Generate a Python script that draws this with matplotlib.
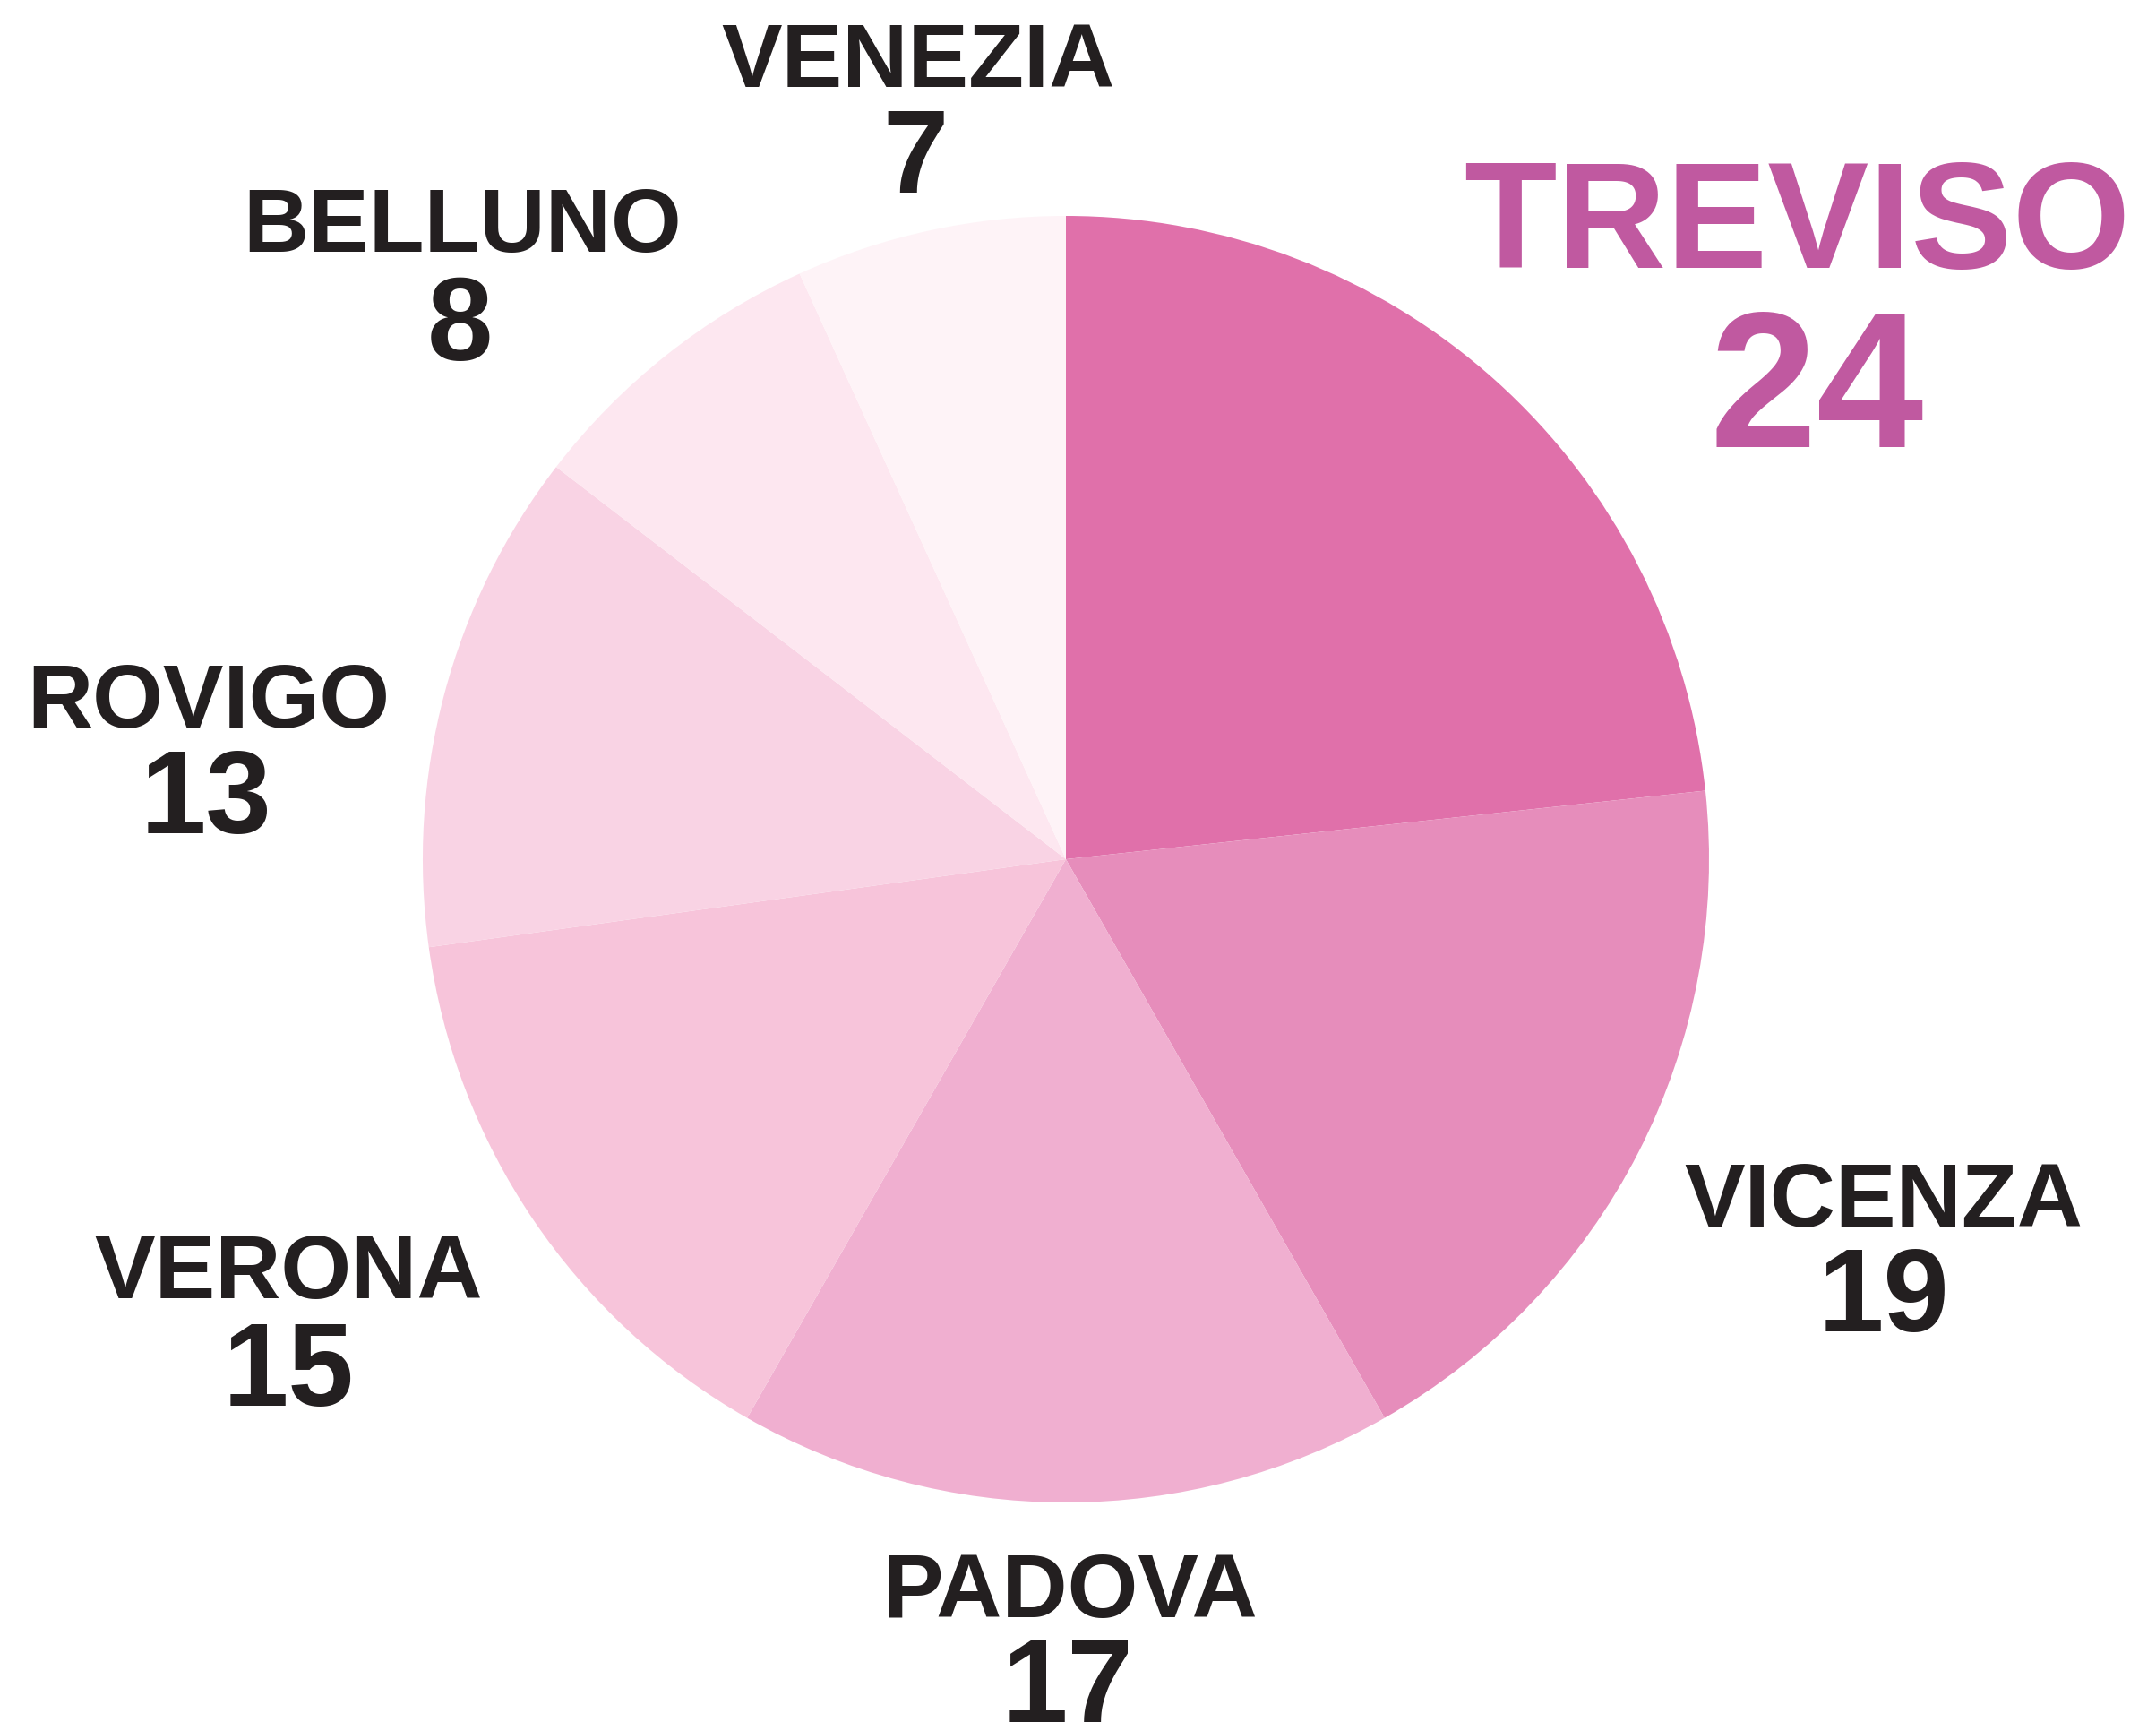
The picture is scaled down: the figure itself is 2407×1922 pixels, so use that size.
import matplotlib
matplotlib.use("Agg")
import matplotlib.pyplot as plt
from matplotlib import font_manager

# ---- data ----
provinces = ["TREVISO", "VICENZA", "PADOVA", "VERONA", "ROVIGO", "BELLUNO", "VENEZIA"]
values = [24, 19, 17, 15, 13, 8, 7]
colors = ["#e070aa", "#e68dbb", "#f0afd0", "#f7c4da", "#f9d3e4", "#fde7f0", "#fef3f7"]

W, H = 2407, 1922
fig = plt.figure(figsize=(W / 100, H / 100), dpi=100)
fig.patch.set_facecolor("white")

names = {f.name for f in font_manager.fontManager.ttflist}
base_font = "Liberation Sans" if "Liberation Sans" in names else "DejaVu Sans"

# pie centre (1190, 959) px, radius 718 px
cx, cy, r = 1190, 959, 718
ax = fig.add_axes([(cx - r) / W, (H - cy - r) / H, 2 * r / W, 2 * r / H])
ax.pie(values, colors=colors, startangle=90, counterclock=False, radius=1,
       wedgeprops=dict(linewidth=0))
ax.set_xlim(-1, 1)
ax.set_ylim(-1, 1)
ax.set_axis_off()

# label anchors (pixel coords: name x, name baseline, number x, number baseline)
label_pos = {
    "TREVISO": (2006, 299, 2028, 499),
    "VICENZA": (2103, 1369, 2103, 1486),
    "PADOVA": (1195, 1805, 1192, 1922),
    "VERONA": (322, 1449, 322, 1569),
    "ROVIGO": (233, 812, 230, 930),
    "BELLUNO": (516, 281, 513, 402),
    "VENEZIA": (1025, 97, 1022, 215),
}

dark = "#231f20"
for name, val in zip(provinces, values):
    xn, yn, xv, yv = label_pos[name]
    if name == "TREVISO":
        col, s1, s2 = "#c059a0", 122, 155
    else:
        col, s1, s2 = dark, 73, 95
    fig.text(xn / W, 1 - yn / H, name, ha="center", va="baseline",
             fontsize=s1, fontweight="bold", color=col, family=base_font)
    fig.text(xv / W, 1 - yv / H, str(val), ha="center", va="baseline",
             fontsize=s2, fontweight="bold", color=col, family=base_font)

fig.savefig("out.png", dpi=100, facecolor="white")
